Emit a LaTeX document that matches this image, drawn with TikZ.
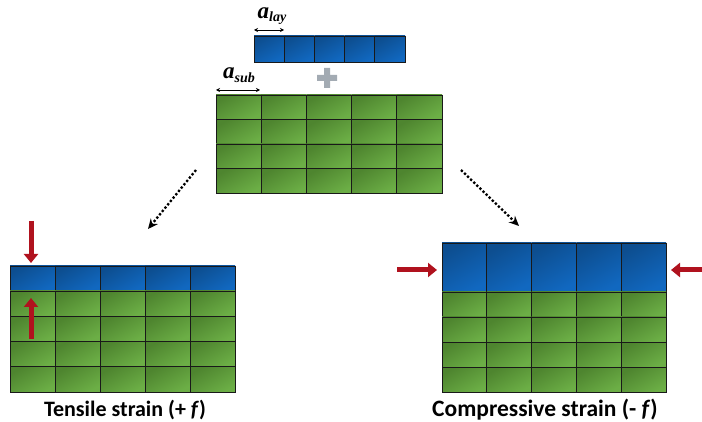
\documentclass[tikz,border=0pt]{standalone}
\usepackage{fontspec}
\setmainfont{Carlito}
\newfontfamily\latfont{Liberation Serif}
\usepackage{tikz}
\usetikzlibrary{arrows.meta}
\usetikzlibrary{calc}
\definecolor{subgreen}{HTML}{64AA3C}
\definecolor{laybue}{HTML}{1168C0}
\definecolor{pushred}{HTML}{B0121E}
\definecolor{plusgray}{HTML}{A3ABB3}

\begin{document}
\begin{tikzpicture}[x=1pt,y=-1pt,
	cell/.style={draw=black!90,line width=0.7pt,inner sep=0pt,outer sep=0pt,anchor=north west},
	green cell/.style={cell,shading=axis,top color=subgreen!78!black,bottom color=subgreen!95,shading angle=30},
	blue cell/.style={cell,shading=axis,top color=laybue!75!black,bottom color=laybue,shading angle=30},
	push/.style={pushred,line width=5pt,-{Triangle[length=9pt,width=14pt]}},
	dots/.style={dotted,line width=2.3pt,-{Stealth[length=10pt,width=9pt]}},
	span/.style={line width=0.6pt,{Stealth[length=4pt,width=4pt]}-{Stealth[length=4pt,width=4pt]}},
	lattice/.style={inner sep=0pt,font=\latfont\bfseries\itshape\fontsize{23}{24}\selectfont}]
\useasboundingbox (0,0) rectangle (702,422);
% layer and substrate on their own
\foreach \i in {0,...,4}{
	\node[blue cell,minimum width=30.2pt,minimum height=26pt] (l-\i) at (254+30.2*\i,36) {};
	\foreach \j in {0,...,3}
		\node[green cell,minimum width=45.2pt,minimum height=24.5pt] (s-\i-\j) at (216+45.2*\i,95+24.5*\j) {};
}
\coordinate (alay-a) at (254,30);
\coordinate (alay-b) at (284,30);
\draw[span] (alay-a) -- (alay-b);
\node[lattice] (alay) at (272,16) {a\raisebox{-0.35ex}{\fontsize{14}{14}\selectfont lay}};
\coordinate (asub-a) at (216,90);
\coordinate (asub-b) at (260,90);
\draw[span] (asub-a) -- (asub-b);
\node[lattice] (asub) at (239,75) {a\raisebox{-0.35ex}{\fontsize{14}{14}\selectfont sub}};
\fill[plusgray] (324,68) rectangle (330,88) (317,75) rectangle (337,81);
% tensile
\foreach \i in {0,...,4}{
	\node[blue cell,minimum width=45pt,minimum height=25pt] (tl-\i) at (10+45*\i,266) {};
	\foreach \j in {0,...,3}
		\node[green cell,minimum width=45pt,minimum height=25.25pt] (ts-\i-\j) at (10+45*\i,291+25.25*\j) {};
}
% compressive
\foreach \i in {0,...,4}{
	\node[blue cell,minimum width=44.8pt,minimum height=49pt] (cl-\i) at (442+44.8*\i,243) {};
	\foreach \j in {0,...,3}
		\node[green cell,minimum width=44.8pt,minimum height=25pt] (cs-\i-\j) at (442+44.8*\i,292+25*\j) {};
}
\coordinate (from-l) at (196,170);
\coordinate (to-l) at (148,229);
\coordinate (from-r) at (461,170);
\coordinate (to-r) at (519,226);
\draw[dots] (from-l) -- (to-l);
\draw[dots] (from-r) -- (to-r);
\coordinate (down-a) at (31,221);
\coordinate (down-b) at (31,263);
\coordinate (up-a) at (31,339);
\coordinate (up-b) at (31,298);
\draw[push] (down-a) -- (down-b);
\draw[push] (up-a) -- (up-b);
\coordinate (in-l-a) at (397,270);
\coordinate (in-l-b) at (437,270);
\coordinate (in-r-a) at (702,270);
\coordinate (in-r-b) at (671,270);
\draw[push] (in-l-a) -- (in-l-b);
\draw[push] (in-r-a) -- (in-r-b);
\node (tensile) at (125,410) {\fontsize{22}{24}\selectfont\bfseries Tensile strain (+ \textit{f})};
\node (compress) at (545,410) {\fontsize{23.5}{24}\selectfont\bfseries Compressive strain (- \textit{f})};
\end{tikzpicture}
\end{document}
